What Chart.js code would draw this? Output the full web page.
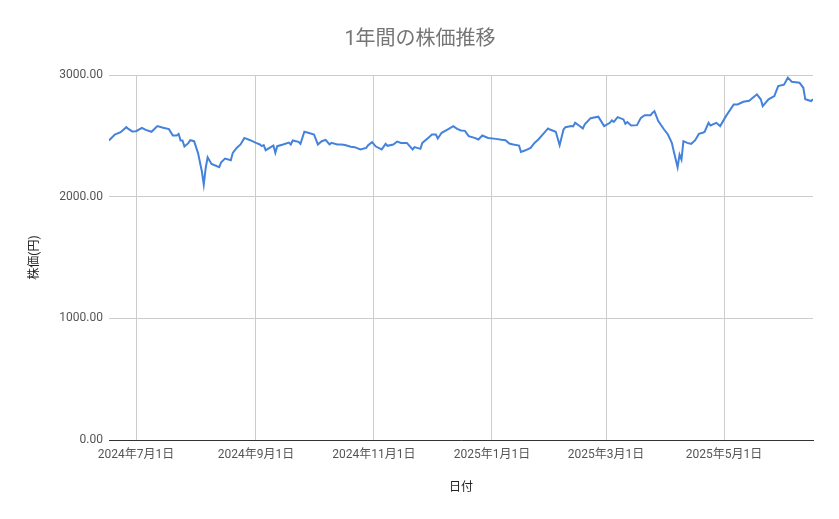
<!DOCTYPE html>
<html lang="ja">
<head>
<meta charset="utf-8">
<title>1年間の株価推移</title>
<script src="https://cdn.jsdelivr.net/npm/chart.js@4/dist/chart.umd.min.js"></script>
<style>
  html, body { margin: 0; padding: 0; background: #fff; }
  #chart { display: block; }
</style>
</head>
<body>
<canvas id="chart" width="839" height="519"></canvas>
<script>
// values
const dates = [
  '2024-06-17','2024-06-20','2024-06-23','2024-06-24','2024-06-26','2024-06-27','2024-06-29',
  '2024-07-01','2024-07-04','2024-07-06','2024-07-09','2024-07-12','2024-07-15','2024-07-18',
  '2024-07-20','2024-07-22','2024-07-23','2024-07-24','2024-07-25','2024-07-26','2024-07-28',
  '2024-07-29','2024-07-31','2024-08-02','2024-08-04','2024-08-05','2024-08-06','2024-08-07',
  '2024-08-09','2024-08-13','2024-08-14','2024-08-16','2024-08-19','2024-08-20','2024-08-22',
  '2024-08-24','2024-08-26','2024-08-29','2024-09-01','2024-09-03','2024-09-04','2024-09-05',
  '2024-09-06','2024-09-08','2024-09-10','2024-09-11','2024-09-12','2024-09-15','2024-09-18',
  '2024-09-19','2024-09-20','2024-09-23','2024-09-24','2024-09-26','2024-09-28','2024-10-01',
  '2024-10-03','2024-10-05','2024-10-07','2024-10-09','2024-10-10','2024-10-13','2024-10-15',
  '2024-10-17','2024-10-20','2024-10-22','2024-10-25','2024-10-28','2024-10-29','2024-10-31',
  '2024-11-02','2024-11-05','2024-11-07','2024-11-08','2024-11-11','2024-11-13','2024-11-15',
  '2024-11-18','2024-11-21','2024-11-22','2024-11-25','2024-11-26','2024-11-29','2024-12-01',
  '2024-12-03','2024-12-04','2024-12-06','2024-12-09','2024-12-12','2024-12-14','2024-12-16',
  '2024-12-18','2024-12-20','2024-12-23','2024-12-25','2024-12-27','2024-12-30','2025-01-03',
  '2025-01-06','2025-01-08','2025-01-10','2025-01-12','2025-01-15','2025-01-16','2025-01-18',
  '2025-01-21','2025-01-23','2025-01-25','2025-01-28','2025-01-30','2025-01-31','2025-02-03',
  '2025-02-05','2025-02-07','2025-02-08','2025-02-11','2025-02-12','2025-02-13','2025-02-15',
  '2025-02-17','2025-02-18','2025-02-21','2025-02-25','2025-02-28','2025-03-03','2025-03-04',
  '2025-03-05','2025-03-07','2025-03-10','2025-03-11','2025-03-12','2025-03-14','2025-03-17',
  '2025-03-19','2025-03-21','2025-03-24','2025-03-25','2025-03-26','2025-03-28','2025-03-31',
  '2025-04-02','2025-04-04','2025-04-05','2025-04-07','2025-04-08','2025-04-09','2025-04-10',
  '2025-04-12','2025-04-14','2025-04-16','2025-04-18','2025-04-20','2025-04-21','2025-04-23',
  '2025-04-24','2025-04-27','2025-04-29','2025-05-02','2025-05-06','2025-05-08','2025-05-11',
  '2025-05-14','2025-05-18','2025-05-20','2025-05-21','2025-05-24','2025-05-27','2025-05-29',
  '2025-06-01','2025-06-03','2025-06-05','2025-06-09','2025-06-11','2025-06-12','2025-06-15',
  '2025-06-16'
];

const prices = [
  2462, 2511, 2530, 2544, 2571, 2557, 2536,
  2538, 2566, 2549, 2533, 2580, 2566, 2555,
  2503, 2503, 2516, 2462, 2462, 2412, 2440,
  2464, 2456, 2360, 2209, 2099, 2236, 2324,
  2269, 2242, 2283, 2313, 2300, 2360, 2401,
  2429, 2483, 2464, 2442, 2429, 2415, 2423,
  2382, 2401, 2420, 2360, 2415, 2429, 2445,
  2429, 2462, 2451, 2434, 2533, 2525, 2511,
  2429, 2456, 2467, 2429, 2442, 2429, 2429,
  2425, 2410, 2407, 2388, 2401, 2423, 2448,
  2412, 2388, 2434, 2418, 2429, 2453, 2442,
  2442, 2388, 2407, 2393, 2442, 2483, 2511,
  2511, 2478, 2525, 2552, 2580, 2557, 2544,
  2541, 2497, 2483, 2470, 2503, 2483, 2475,
  2467, 2464, 2437, 2429, 2420, 2368, 2379,
  2401, 2442, 2470, 2525, 2561, 2552, 2533,
  2423, 2552, 2571, 2580, 2577, 2607, 2585,
  2561, 2594, 2645, 2657, 2580, 2607, 2627,
  2615, 2654, 2635, 2599, 2613, 2585, 2588,
  2648, 2670, 2670, 2689, 2703, 2621, 2552,
  2511, 2442, 2374, 2242, 2346, 2305, 2456,
  2442, 2434, 2462, 2516, 2525, 2534, 2607,
  2585, 2607, 2580, 2662, 2758, 2758, 2780,
  2788, 2841, 2800, 2744, 2800, 2827, 2909,
  2920, 2978, 2945, 2937, 2895, 2800, 2786,
  2800
];

const xTickDates = ['2024-07-01','2024-09-01','2024-11-01','2025-01-01','2025-03-01','2025-05-01'];
const xTickLabels = ['2024年7月1日','2024年9月1日','2024年11月1日','2025年1月1日','2025年3月1日','2025年5月1日'];

const FONT = "Roboto, 'Noto Sans CJK JP', sans-serif";

let points = [];
for (let i = 0; i < dates.length; i++)
    points.push({x: Date.parse(dates[i]), y: prices[i]});

const tickTimes = xTickDates.map(d => Date.parse(d));

new Chart('chart', {
    type: 'line',
    data: {
        datasets: [{
            data: points,
            borderColor: '#4582dc',
            borderWidth: 2,
            pointRadius: 0,
            fill: false,
            tension: 0
        }]
    },
    options: {
        responsive: false,
        devicePixelRatio: 1,
        animation: false,
        // equal-ish side padding keeps the title centred on the canvas
        layout: { padding: { left: 27, right: 26, top: 0, bottom: 0 } },
        plugins: {
            legend: { display: false },
            tooltip: { enabled: false },
            title: {
                display: true,
                text: '1年間の株価推移',
                color: '#757575',
                font: { family: FONT, size: 20, weight: 'normal' },
                padding: { top: 28, bottom: 23 }
            }
        },
        scales: {
            x: {
                type: 'linear',
                min: Date.parse(dates[0]),
                max: Date.parse(dates[dates.length - 1]),
                afterFit: s => { s.height = 79; },
                afterBuildTicks: s => { s.ticks = tickTimes.map(v => ({value: v})); },
                ticks: {
                    autoSkip: false,
                    maxRotation: 0,
                    padding: 8,
                    color: '#555',
                    font: { family: FONT, size: 12 },
                    callback: v => {
                        const i = tickTimes.indexOf(v);
                        return i >= 0 ? xTickLabels[i] : '';
                    }
                },
                grid: { color: '#cccccc', drawTicks: false },
                border: { display: true, color: '#333', width: 1 },
                title: {
                    display: true,
                    text: '日付',
                    color: '#222',
                    font: { family: FONT, size: 12 },
                    padding: { top: 0, bottom: 23.5 }
                }
            },
            y: {
                min: 0,
                max: 3000,
                afterFit: s => { s.width = 82; },
                ticks: {
                    stepSize: 1000,
                    padding: 6,
                    color: '#555',
                    font: { family: FONT, size: 12 },
                    callback: v => v.toFixed(2)
                },
                grid: { color: '#cccccc', drawTicks: false },
                border: { display: false },
                title: {
                    display: true,
                    text: '株価(円)',
                    color: '#222',
                    font: { family: FONT, size: 12 },
                    padding: { top: 1, bottom: 0 }
                }
            }
        }
    }
});
</script>
</body>
</html>
